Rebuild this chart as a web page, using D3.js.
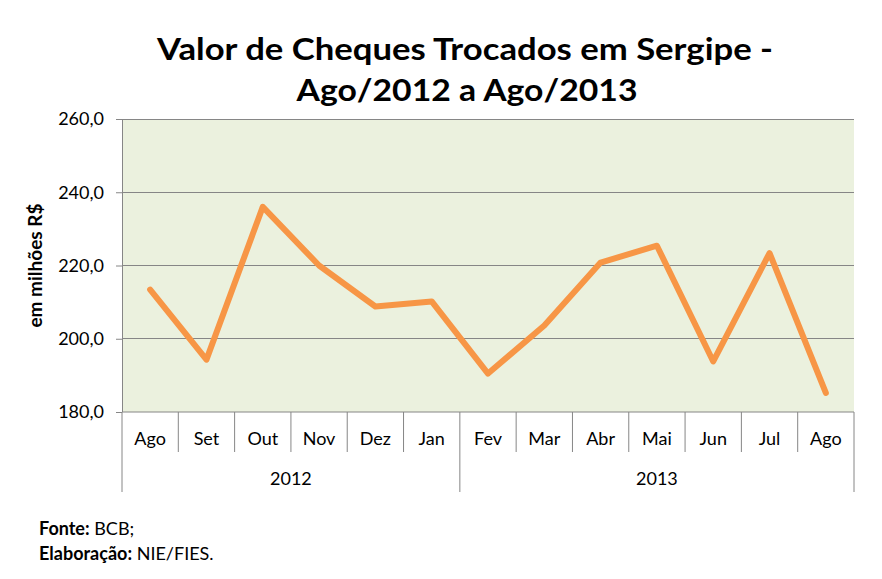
<!DOCTYPE html>
<html>
<head>
  <meta charset="utf-8">
  <title>Valor de Cheques Trocados em Sergipe</title>
  <script src="https://cdn.jsdelivr.net/npm/d3@7"></script>
  <style>
    body { margin: 0; background: #fff; }
    svg text { font-family: Lato, "Open Sans", sans-serif; fill: #000; }
    .axis path { stroke: #868686; }
    .axis line { stroke: #868686; }
    .grid line { stroke: #868686; shape-rendering: crispEdges; }
    .title { font-size: 31px; font-weight: bold; }
    .ylabel { font-size: 19px; font-weight: bold; }
    .axis .tick text { font-size: 18px; }
    .note { font-size: 18px; }
  </style>
</head>
<body>
  <svg id="chart"></svg>

  <script>
    var months = ['Ago', 'Set', 'Out', 'Nov', 'Dez', 'Jan', 'Fev', 'Mar', 'Abr', 'Mai', 'Jun', 'Jul', 'Ago'];
    var years = ['2012', '2013'];
    var yearOfMonth = [0, 0, 0, 0, 0, 0, 1, 1, 1, 1, 1, 1, 1];
    var values = [213.4, 194.3, 236.0, 220.0, 208.8, 210.2, 190.5, 203.6, 220.8, 225.4, 193.8, 223.4, 185.2];
    var yTicks = [180, 200, 220, 240, 260];

    var W = 882, H = 579;
    var margin = { top: 119, left: 122, bottom: 167, right: 28 },
      width = W - margin.left - margin.right,
      height = H - margin.top - margin.bottom;

    var root = d3.select('#chart')
      .attr('width', W)
      .attr('height', H);

    var svg = root.append('g')
      .attr('transform', 'translate(' + margin.left + ',' + margin.top + ')');

    // band per month, indexed so the two "Ago" stay separate
    var x = d3.scaleBand()
      .domain(d3.range(months.length))
      .range([0, width]);

    var y = d3.scaleLinear()
      .domain([180, 260])
      .range([height, 0]);

    svg.append('rect')
      .attr('width', width)
      .attr('height', height)
      .attr('fill', '#ebf1de');

    svg.append('g')
      .attr('class', 'grid')
      .selectAll('line')
      .data(yTicks.slice(1))
      .enter()
      .append('line')
      .attr('x1', 0)
      .attr('x2', width)
      .attr('y1', d => y(d))
      .attr('y2', d => y(d));

    var yAxis = d3.axisLeft(y)
      .tickValues(yTicks)
      .tickSize(6)
      .tickPadding(12)
      .tickFormat(d => d3.format('.1f')(d).replace('.', ','));

    svg.append('g')
      .attr('class', 'axis')
      .call(yAxis)
      .call(g => g.select('.domain').attr('d', 'M0.5,0V' + height));

    // month axis: ticks between the bands
    var xAxis = svg.append('g')
      .attr('class', 'axis')
      .attr('transform', 'translate(0,' + height + ')');

    xAxis.append('line')
      .attr('x1', 0)
      .attr('x2', width)
      .attr('stroke', '#868686');

    xAxis.selectAll('.sep')
      .data(d3.range(months.length + 1))
      .enter()
      .append('line')
      .attr('class', 'sep')
      .attr('x1', d => d < months.length ? x(d) : width)
      .attr('x2', d => d < months.length ? x(d) : width)
      .attr('y1', 0)
      .attr('y2', (d, i) => (i === 0 || i === months.length || yearOfMonth[i] !== yearOfMonth[i - 1]) ? 80 : 40);

    xAxis.selectAll('.mlabel')
      .data(months)
      .enter()
      .append('text')
      .attr('class', 'mlabel')
      .attr('x', (d, i) => x(i) + x.bandwidth() / 2)
      .attr('y', 33)
      .attr('text-anchor', 'middle')
      .style('font-size', '18px')
      .text(d => d);

    xAxis.selectAll('.ylab')
      .data(years)
      .enter()
      .append('text')
      .attr('class', 'ylab')
      .attr('x', (d, k) => {
        var idx = d3.range(months.length).filter(i => yearOfMonth[i] === k);
        return (x(idx[0]) + x(idx[idx.length - 1]) + x.bandwidth()) / 2;
      })
      .attr('y', 73)
      .attr('text-anchor', 'middle')
      .style('font-size', '18px')
      .text(d => d);

    var line = d3.line()
      .x((d, i) => x(i) + x.bandwidth() / 2)
      .y(d => y(d));

    svg.append('path')
      .datum(values)
      .attr('fill', 'none')
      .attr('stroke', '#f79646')
      .attr('stroke-width', 6)
      .attr('stroke-linejoin', 'round')
      .attr('stroke-linecap', 'round')
      .attr('d', line);

    svg.append('text')
      .attr('class', 'ylabel')
      .attr('transform', 'translate(-80,' + height / 2 + ') rotate(-90)')
      .attr('text-anchor', 'middle')
      .text('em milhões R$');

    root.append('text')
      .attr('class', 'title')
      .attr('x', 465)
      .attr('y', 60)
      .attr('text-anchor', 'middle')
      .attr('textLength', 616)
      .attr('lengthAdjust', 'spacingAndGlyphs')
      .text('Valor de Cheques Trocados em Sergipe -');

    root.append('text')
      .attr('class', 'title')
      .attr('x', 467)
      .attr('y', 101)
      .attr('text-anchor', 'middle')
      .attr('textLength', 341)
      .attr('lengthAdjust', 'spacingAndGlyphs')
      .text('Ago/2012 a Ago/2013');

    var n1 = root.append('text').attr('class', 'note').attr('x', 39).attr('y', 535);
    n1.append('tspan').attr('font-weight', 'bold').text('Fonte:');
    n1.append('tspan').text(' BCB;');

    var n2 = root.append('text').attr('class', 'note').attr('x', 39).attr('y', 560);
    n2.append('tspan').attr('font-weight', 'bold').text('Elaboração:');
    n2.append('tspan').text(' NIE/FIES.');
  </script>
</body>
</html>
